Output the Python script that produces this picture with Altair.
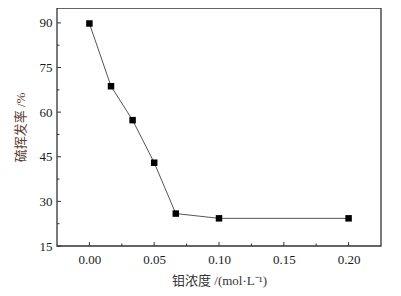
import altair as alt
import pandas as pd

# data
conc = [0.0, 1/60, 2/60, 0.05, 4/60, 0.10, 0.20]
rate = [89.8, 68.7, 57.3, 43.0, 25.9, 24.3, 24.3]

x_major = [0.0, 0.05, 0.10, 0.15, 0.20]
x_minor = [0.025, 0.075, 0.125, 0.175]
y_major = [15, 30, 45, 60, 75, 90]
y_minor = [22.5, 37.5, 52.5, 67.5, 82.5]

df = pd.DataFrame({"c": conc, "r": rate})

W, H = 324, 238
xs = alt.Scale(domain=[-0.025, 0.225], nice=False, zero=False)
ys = alt.Scale(domain=[15, 95], nice=False, zero=False)

serif = "Times New Roman, Liberation Serif, serif"
cjk = "Times New Roman, Liberation Serif, Noto Sans CJK SC, serif"

xaxis = alt.Axis(values=x_major, format=".2f", ticks=False, domain=False, grid=False,
                 labelFont=serif, labelFontSize=13, labelColor="#1a1a1a", labelPadding=7,
                 title="钼浓度 /(mol·L⁻¹)", titleFont=cjk, titleFontSize=13,
                 titleFontWeight="normal", titleColor="#333", titlePadding=8)
yaxis = alt.Axis(values=y_major, format="d", ticks=False, domain=False, grid=False,
                 labelFont=serif, labelFontSize=13, labelColor="#1a1a1a", labelPadding=5,
                 title="硫挥发率 /%", titleFont=cjk, titleFontSize=13,
                 titleFontWeight="normal", titleColor="#5c3b32", titlePadding=12)

base = alt.Chart(df)
line = base.mark_line(color="#555", strokeWidth=1).encode(
    x=alt.X("c:Q", scale=xs, axis=xaxis),
    y=alt.Y("r:Q", scale=ys, axis=yaxis),
)
pts = base.mark_square(color="black", size=42, opacity=1).encode(
    x=alt.X("c:Q", scale=xs), y=alt.Y("r:Q", scale=ys)
)

frame = alt.Chart(pd.DataFrame({"k": [0]})).mark_rect(
    fill=None, stroke="#333", strokeWidth=1.3
).encode(x=alt.value(0), x2=alt.value(W), y=alt.value(0), y2=alt.value(H))

def xt(vals, ln):
    return alt.Chart(pd.DataFrame({"v": vals})).mark_rule(color="#333", strokeWidth=1).encode(
        x=alt.X("v:Q", scale=xs), y=alt.value(H), y2=alt.value(H - ln))

def yt(vals, ln):
    return alt.Chart(pd.DataFrame({"v": vals})).mark_rule(color="#333", strokeWidth=1).encode(
        y=alt.Y("v:Q", scale=ys), x=alt.value(0), x2=alt.value(ln))

chart = alt.layer(
    line, pts, frame, xt(x_major, 4), xt(x_minor, 2.5), yt(y_major, 4), yt(y_minor, 2.5)
).properties(
    width=W, height=H,
    autosize=alt.AutoSizeParams(type="none"),
    padding={"left": 49, "top": 0, "right": 10, "bottom": 48},
    background="white",
).configure_view(stroke=None)

chart.save("out.html", embed_options={"renderer": "svg", "actions": False})
